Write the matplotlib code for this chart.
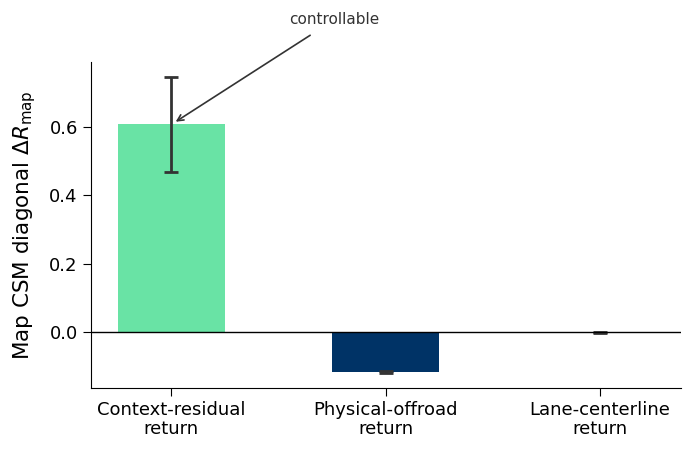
import numpy as np
import matplotlib.pyplot as plt

categories = ['Context-residual\nreturn', 'Physical-offroad\nreturn', 'Lane-centerline\nreturn']
values = [0.607, -0.117, -0.002]
errors = [0.139, 0.003, 0.001]
colors = ['#69e3a5', '#003366', '#cccccc']

fig = plt.figure(figsize=(6.92, 4.5), dpi=100)
ax = fig.add_axes([0.1315, 0.138, 0.852, 0.724])

x = np.arange(len(categories))
ax.bar(x, values, width=0.5, color=colors, yerr=errors, capsize=5,
       error_kw=dict(ecolor='#333333', elinewidth=2, capthick=2))
ax.axhline(0, color='black', linewidth=1)

ax.set_xticks(x)
ax.set_xticklabels(categories, fontsize=13, linespacing=1.05)
ax.tick_params(axis='both', labelsize=13, length=6)
ax.set_yticks([0.0, 0.2, 0.4, 0.6])
ax.set_ylabel(r'Map CSM diagonal $\Delta R_{\mathrm{map}}$', fontsize=15.5, labelpad=8)
ax.spines['top'].set_visible(False)
ax.spines['right'].set_visible(False)

ax.annotate('controllable', xy=(0.02, 0.615), xytext=(0.76, 0.9),
            textcoords='data', fontsize=11, color='#333333', ha='center',
            annotation_clip=False,
            arrowprops=dict(arrowstyle='->', color='#333333', lw=1.2,
                            shrinkA=7, shrinkB=0))

fig.savefig('out.png', dpi=100)
